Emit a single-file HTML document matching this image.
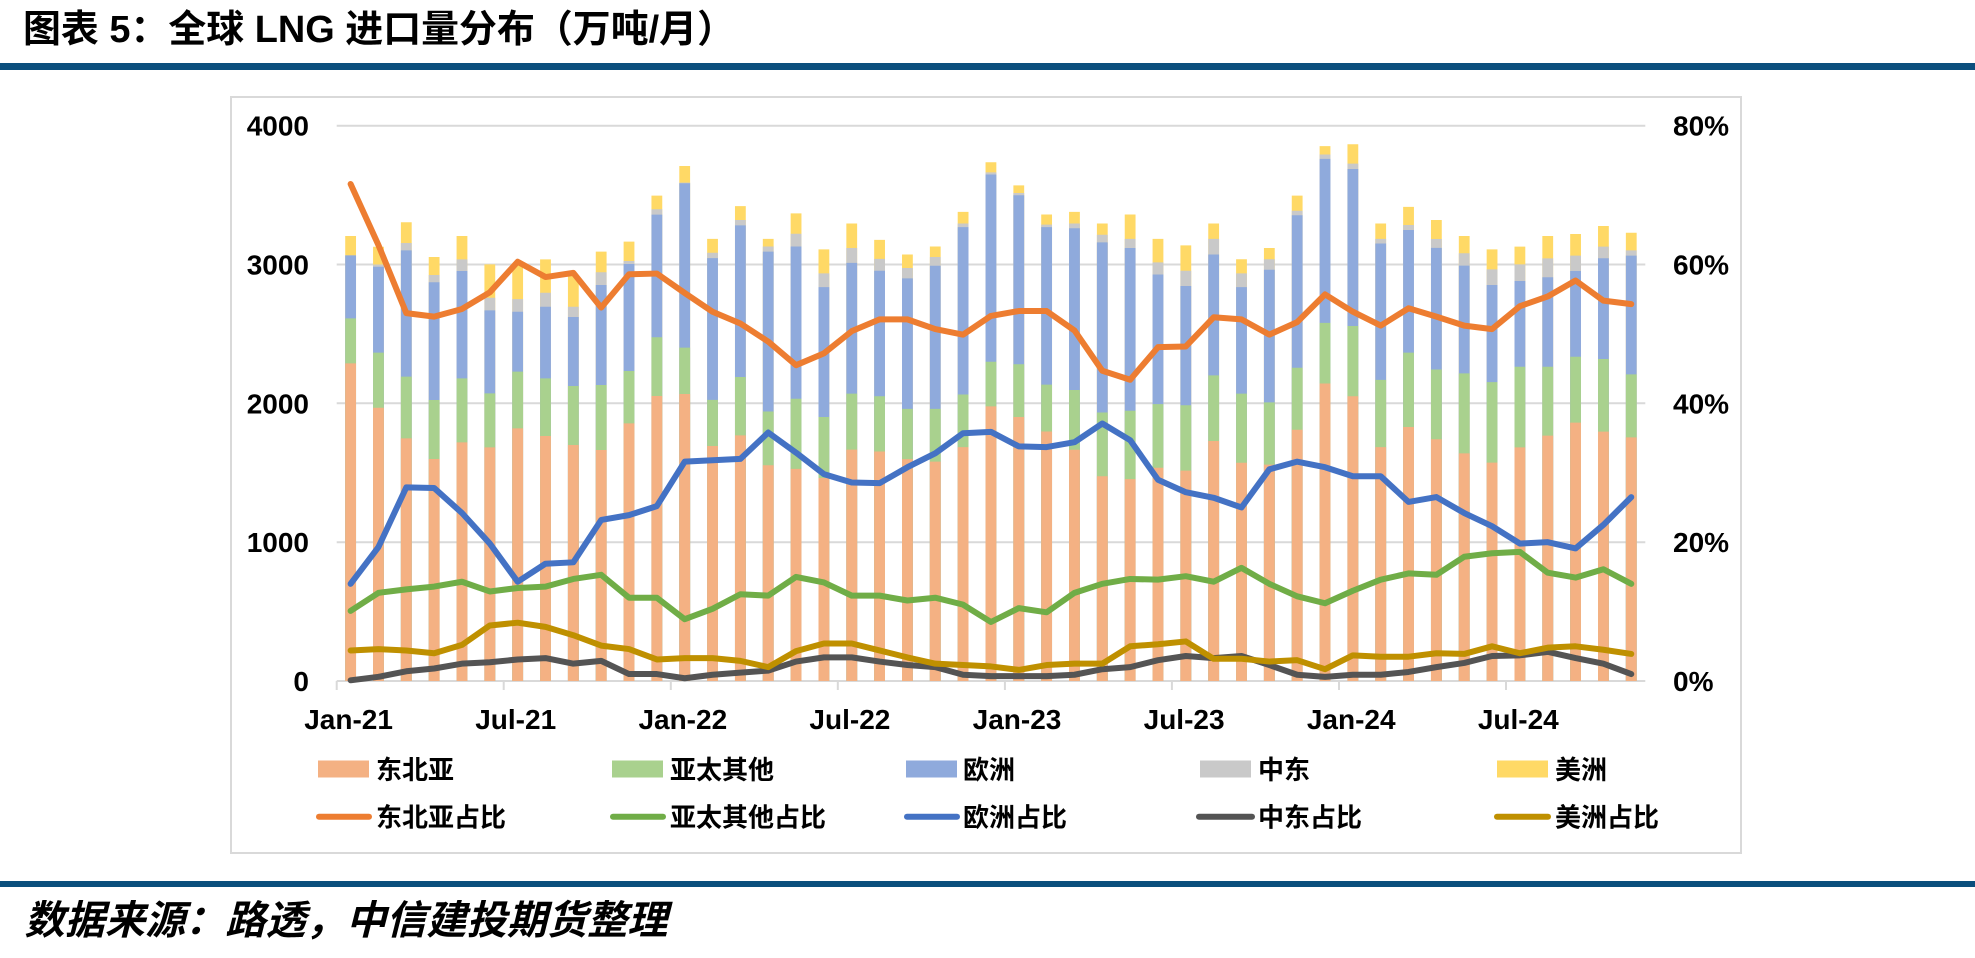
<!DOCTYPE html>
<html>
<head>
<meta charset="utf-8">
<style>
html,body{margin:0;padding:0;background:#fff;}
body{width:1975px;height:958px;overflow:hidden;position:relative;}
svg{position:absolute;left:0;top:0;}
</style>
</head>
<body>
<svg width="1975" height="958" viewBox="0 0 1975 958" xmlns="http://www.w3.org/2000/svg">
  <rect x="0" y="0" width="1975" height="958" fill="#ffffff"/>
  <!-- Title -->
  <text x="23" y="42" font-family="'Liberation Sans','Noto Sans CJK SC',sans-serif" font-weight="700" font-size="38" fill="#000" textLength="712" lengthAdjust="spacingAndGlyphs">图表 5：全球 LNG 进口量分布（万吨/月）</text>
  <rect x="0" y="63" width="1975" height="7" fill="#0b4f7d"/>

  <!-- chart box -->
  <rect x="231" y="97" width="1510" height="756" fill="#fff" stroke="#d9d9d9" stroke-width="2"/>

  <!-- gridlines -->
  <g stroke="#d9d9d9" stroke-width="2">
    <line x1="336.7" y1="125.7" x2="1645.3" y2="125.7"/>
    <line x1="336.7" y1="264.5" x2="1645.3" y2="264.5"/>
    <line x1="336.7" y1="403.3" x2="1645.3" y2="403.3"/>
    <line x1="336.7" y1="542.2" x2="1645.3" y2="542.2"/>
    <line x1="336.7" y1="681" x2="1645.3" y2="681"/>
    <line x1="336.7" y1="681" x2="336.7" y2="690"/>
    <line x1="503.7" y1="681" x2="503.7" y2="690"/>
    <line x1="670.8" y1="681" x2="670.8" y2="690"/>
    <line x1="837.8" y1="681" x2="837.8" y2="690"/>
    <line x1="1004.9" y1="681" x2="1004.9" y2="690"/>
    <line x1="1171.9" y1="681" x2="1171.9" y2="690"/>
    <line x1="1339" y1="681" x2="1339" y2="690"/>
    <line x1="1506" y1="681" x2="1506" y2="690"/>
  </g>

  <!-- stacked bars -->
  <g transform="translate(336.7,681) scale(27.84,-0.13883)" fill="none" stroke-width="0.388">
    <path stroke="#FFD966" d="M0.5 0V3205M1.5 0V3128M2.5 0V3304M3.5 0V3054M4.5 0V3205M5.5 0V3001M6.5 0V3000M7.5 0V3037M8.5 0V2920M9.5 0V3093M10.5 0V3165M11.5 0V3496M12.5 0V3710M13.5 0V3185M14.5 0V3421M15.5 0V3185M16.5 0V3368M17.5 0V3109M18.5 0V3295M19.5 0V3177M20.5 0V3072M21.5 0V3130M22.5 0V3379M23.5 0V3737M24.5 0V3570M25.5 0V3360M26.5 0V3379M27.5 0V3295M28.5 0V3360M29.5 0V3185M30.5 0V3138M31.5 0V3295M32.5 0V3038M33.5 0V3119M34.5 0V3496M35.5 0V3853M36.5 0V3866M37.5 0V3295M38.5 0V3415M39.5 0V3321M40.5 0V3205M41.5 0V3109M42.5 0V3129M43.5 0V3205M44.5 0V3220M45.5 0V3277M46.5 0V3229"/>
    <path stroke="#C9C9C9" d="M0.5 0V3066M1.5 0V3000M2.5 0V3155M3.5 0V2924M4.5 0V3037M5.5 0V2761M6.5 0V2751M7.5 0V2797M8.5 0V2696M9.5 0V2944M10.5 0V3025M11.5 0V3398M12.5 0V3590M13.5 0V3085M14.5 0V3321M15.5 0V3130M16.5 0V3222M17.5 0V2936M18.5 0V3119M19.5 0V3041M20.5 0V2975M21.5 0V3054M22.5 0V3295M23.5 0V3664M24.5 0V3515M25.5 0V3287M26.5 0V3295M27.5 0V3214M28.5 0V3185M29.5 0V3015M30.5 0V2955M31.5 0V3185M32.5 0V2936M33.5 0V3038M34.5 0V3387M35.5 0V3792M36.5 0V3727M37.5 0V3185M38.5 0V3285M39.5 0V3184M40.5 0V3081M41.5 0V2965M42.5 0V3001M43.5 0V3044M44.5 0V3064M45.5 0V3129M46.5 0V3102"/>
    <path stroke="#8FAADC" d="M0.5 0V3066M1.5 0V2984M2.5 0V3102M3.5 0V2872M4.5 0V2953M5.5 0V2670M6.5 0V2660M7.5 0V2696M8.5 0V2622M9.5 0V2852M10.5 0V3004M11.5 0V3359M12.5 0V3585M13.5 0V3046M14.5 0V3282M15.5 0V3093M16.5 0V3130M17.5 0V2837M18.5 0V3012M19.5 0V2955M20.5 0V2900M21.5 0V2991M22.5 0V3269M23.5 0V3648M24.5 0V3499M25.5 0V3269M26.5 0V3261M27.5 0V3159M28.5 0V3119M29.5 0V2928M30.5 0V2845M31.5 0V3072M32.5 0V2837M33.5 0V2962M34.5 0V3355M35.5 0V3761M36.5 0V3688M37.5 0V3151M38.5 0V3249M39.5 0V3120M40.5 0V2992M41.5 0V2852M42.5 0V2881M43.5 0V2908M44.5 0V2953M45.5 0V3045M46.5 0V3064"/>
    <path stroke="#A9D18E" d="M0.5 0V2612M1.5 0V2365M2.5 0V2192M3.5 0V2024M4.5 0V2180M5.5 0V2072M6.5 0V2228M7.5 0V2180M8.5 0V2125M9.5 0V2132M10.5 0V2233M11.5 0V2476M12.5 0V2401M13.5 0V2025M14.5 0V2190M15.5 0V1941M16.5 0V2033M17.5 0V1902M18.5 0V2070M19.5 0V2051M20.5 0V1960M21.5 0V1960M22.5 0V2064M23.5 0V2300M24.5 0V2282M25.5 0V2135M26.5 0V2096M27.5 0V1934M28.5 0V1947M29.5 0V1994M30.5 0V1986M31.5 0V2201M32.5 0V2070M33.5 0V2007M34.5 0V2256M35.5 0V2580M36.5 0V2557M37.5 0V2169M38.5 0V2365M39.5 0V2244M40.5 0V2216M41.5 0V2153M42.5 0V2264M43.5 0V2264M44.5 0V2336M45.5 0V2319M46.5 0V2209"/>
    <path stroke="#F4B183" d="M0.5 0V2288M1.5 0V1968M2.5 0V1748M3.5 0V1599M4.5 0V1719M5.5 0V1683M6.5 0V1820M7.5 0V1765M8.5 0V1700M9.5 0V1664M10.5 0V1856M11.5 0V2053M12.5 0V2067M13.5 0V1693M14.5 0V1769M15.5 0V1554M16.5 0V1528M17.5 0V1462M18.5 0V1667M19.5 0V1653M20.5 0V1598M21.5 0V1580M22.5 0V1685M23.5 0V1978M24.5 0V1902M25.5 0V1797M26.5 0V1666M27.5 0V1475M28.5 0V1454M29.5 0V1536M30.5 0V1515M31.5 0V1729M32.5 0V1572M33.5 0V1559M34.5 0V1810M35.5 0V2143M36.5 0V2051M37.5 0V1685M38.5 0V1830M39.5 0V1741M40.5 0V1640M41.5 0V1573M42.5 0V1683M43.5 0V1767M44.5 0V1861M45.5 0V1796M46.5 0V1755"/>
  </g>

  <!-- share lines -->
  <g transform="translate(336.7,681) scale(27.84,-6.941)" fill="none" stroke-width="6" stroke-linejoin="round" stroke-linecap="round">
    <polyline vector-effect="non-scaling-stroke" stroke="#ED7D31" points="0.5,71.6 1.5,62.8 2.5,53.0 3.5,52.5 4.5,53.6 5.5,56.0 6.5,60.4 7.5,58.2 8.5,58.8 9.5,53.8 10.5,58.6 11.5,58.7 12.5,55.9 13.5,53.2 14.5,51.5 15.5,48.9 16.5,45.5 17.5,47.2 18.5,50.4 19.5,52.1 20.5,52.1 21.5,50.7 22.5,49.9 23.5,52.6 24.5,53.3 25.5,53.3 26.5,50.5 27.5,44.7 28.5,43.4 29.5,48.1 30.5,48.2 31.5,52.4 32.5,52.1 33.5,49.9 34.5,51.7 35.5,55.7 36.5,53.2 37.5,51.2 38.5,53.7 39.5,52.5 40.5,51.2 41.5,50.7 42.5,54.0 43.5,55.4 44.5,57.7 45.5,54.8 46.5,54.3"/>
    <polyline vector-effect="non-scaling-stroke" stroke="#70AD47" points="0.5,10.1 1.5,12.7 2.5,13.2 3.5,13.6 4.5,14.3 5.5,12.9 6.5,13.4 7.5,13.6 8.5,14.7 9.5,15.3 10.5,12.0 11.5,12.0 12.5,8.9 13.5,10.4 14.5,12.5 15.5,12.3 16.5,15.0 17.5,14.2 18.5,12.3 19.5,12.3 20.5,11.6 21.5,12.0 22.5,11.0 23.5,8.5 24.5,10.5 25.5,9.9 26.5,12.7 27.5,14.0 28.5,14.7 29.5,14.6 30.5,15.1 31.5,14.3 32.5,16.3 33.5,14.0 34.5,12.2 35.5,11.2 36.5,13.0 37.5,14.6 38.5,15.5 39.5,15.3 40.5,17.9 41.5,18.4 42.5,18.6 43.5,15.6 44.5,14.9 45.5,16.1 46.5,14.0"/>
    <polyline vector-effect="non-scaling-stroke" stroke="#4472C4" points="0.5,14.0 1.5,19.3 2.5,27.9 3.5,27.8 4.5,24.2 5.5,19.8 6.5,14.3 7.5,16.9 8.5,17.1 9.5,23.2 10.5,23.9 11.5,25.2 12.5,31.6 13.5,31.8 14.5,32.0 15.5,35.8 16.5,32.9 17.5,29.8 18.5,28.6 19.5,28.5 20.5,30.8 21.5,32.8 22.5,35.7 23.5,35.9 24.5,33.8 25.5,33.7 26.5,34.4 27.5,37.1 28.5,34.7 29.5,29.0 30.5,27.2 31.5,26.4 32.5,25.0 33.5,30.5 34.5,31.6 35.5,30.8 36.5,29.5 37.5,29.5 38.5,25.8 39.5,26.5 40.5,24.2 41.5,22.3 42.5,19.8 43.5,20.0 44.5,19.1 45.5,22.5 46.5,26.5"/>
    <polyline vector-effect="non-scaling-stroke" stroke="#545454" points="0.5,0.1 1.5,0.6 2.5,1.4 3.5,1.8 4.5,2.5 5.5,2.7 6.5,3.1 7.5,3.3 8.5,2.5 9.5,2.9 10.5,1.0 11.5,1.0 12.5,0.4 13.5,0.9 14.5,1.2 15.5,1.5 16.5,2.8 17.5,3.4 18.5,3.4 19.5,2.8 20.5,2.3 21.5,2.0 22.5,0.9 23.5,0.7 24.5,0.7 25.5,0.7 26.5,0.9 27.5,1.7 28.5,2.0 29.5,3.0 30.5,3.6 31.5,3.3 32.5,3.6 33.5,2.3 34.5,0.9 35.5,0.6 36.5,0.9 37.5,0.9 38.5,1.3 39.5,2.0 40.5,2.6 41.5,3.6 42.5,3.7 43.5,4.2 44.5,3.3 45.5,2.5 46.5,1.0"/>
    <polyline vector-effect="non-scaling-stroke" stroke="#BF9000" points="0.5,4.4 1.5,4.6 2.5,4.4 3.5,4.0 4.5,5.2 5.5,8.0 6.5,8.4 7.5,7.8 8.5,6.6 9.5,5.1 10.5,4.6 11.5,3.1 12.5,3.3 13.5,3.3 14.5,2.9 15.5,2.0 16.5,4.3 17.5,5.4 18.5,5.4 19.5,4.4 20.5,3.4 21.5,2.5 22.5,2.3 23.5,2.1 24.5,1.6 25.5,2.3 26.5,2.5 27.5,2.5 28.5,5.0 29.5,5.3 30.5,5.7 31.5,3.2 32.5,3.2 33.5,2.8 34.5,3.0 35.5,1.7 36.5,3.7 37.5,3.5 38.5,3.5 39.5,4.0 40.5,3.9 41.5,5.0 42.5,4.0 43.5,4.8 44.5,5.0 45.5,4.5 46.5,3.9"/>
  </g>

  <!-- axis labels -->
  <g font-family="'Liberation Sans',sans-serif" font-weight="700" font-size="28" fill="#000">
    <g text-anchor="end">
      <text x="309" y="135.7">4000</text>
      <text x="309" y="274.5">3000</text>
      <text x="309" y="413.3">2000</text>
      <text x="309" y="552">1000</text>
      <text x="309" y="691">0</text>
    </g>
    <g text-anchor="start">
      <text x="1673" y="135.7">80%</text>
      <text x="1673" y="274.5">60%</text>
      <text x="1673" y="413.3">40%</text>
      <text x="1673" y="552">20%</text>
      <text x="1673" y="691">0%</text>
    </g>
    <g text-anchor="middle">
      <text x="348.6" y="729">Jan-21</text>
      <text x="515.7" y="729">Jul-21</text>
      <text x="682.8" y="729">Jan-22</text>
      <text x="849.9" y="729">Jul-22</text>
      <text x="1017" y="729">Jan-23</text>
      <text x="1184.1" y="729">Jul-23</text>
      <text x="1351.2" y="729">Jan-24</text>
      <text x="1518.3" y="729">Jul-24</text>
    </g>
  </g>

  <!-- legend -->
  <rect x="318" y="760.5" width="51" height="17" fill="#F4B183"/>
  <rect x="612" y="760.5" width="51" height="17" fill="#A9D18E"/>
  <rect x="906" y="760.5" width="51" height="17" fill="#8FAADC"/>
  <rect x="1200" y="760.5" width="51" height="17" fill="#C9C9C9"/>
  <rect x="1497" y="760.5" width="51" height="17" fill="#FFD966"/>
  <g stroke-width="6" stroke-linecap="round">
    <line x1="319" y1="816.7" x2="369" y2="816.7" stroke="#ED7D31"/>
    <line x1="613" y1="816.7" x2="663" y2="816.7" stroke="#70AD47"/>
    <line x1="907" y1="816.7" x2="957" y2="816.7" stroke="#4472C4"/>
    <line x1="1199" y1="816.7" x2="1252" y2="816.7" stroke="#545454"/>
    <line x1="1497" y1="816.7" x2="1548" y2="816.7" stroke="#BF9000"/>
  </g>
  <g font-family="'Liberation Sans','Noto Sans CJK SC',sans-serif" font-weight="700" font-size="26" fill="#000">
    <text x="376" y="779">东北亚</text>
    <text x="670" y="779">亚太其他</text>
    <text x="963" y="779">欧洲</text>
    <text x="1258" y="779">中东</text>
    <text x="1555" y="779">美洲</text>
    <text x="376" y="826.5">东北亚占比</text>
    <text x="670" y="826.5">亚太其他占比</text>
    <text x="963" y="826.5">欧洲占比</text>
    <text x="1258" y="826.5">中东占比</text>
    <text x="1555" y="826.5">美洲占比</text>
  </g>

  <!-- footer -->
  <rect x="0" y="881" width="1975" height="6" fill="#0b4f7d"/>
  <text x="24.5" y="934" font-family="'Liberation Sans','Noto Sans CJK SC',sans-serif" font-weight="700" font-style="italic" font-size="40" fill="#000" textLength="643" lengthAdjust="spacingAndGlyphs">数据来源：路透，中信建投期货整理</text>
</svg>
</body>
</html>
